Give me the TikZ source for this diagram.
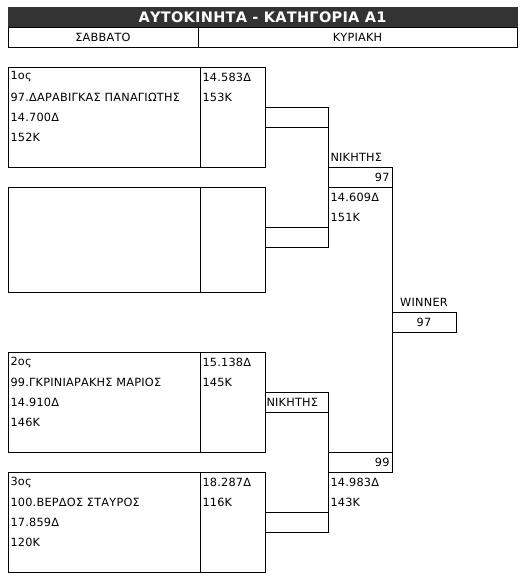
\documentclass[tikz,border=0pt]{standalone}
\usepackage{fontspec}
\setmainfont{DejaVu Sans}[LetterSpace=2]
\definecolor{barbg}{HTML}{333333}
\begin{document}
\begin{tikzpicture}[x=1pt,y=-1pt,line width=1pt,
  box/.style={draw, inner sep=0pt, outer sep=0pt, anchor=north west},
  txt/.style={inner sep=0pt, anchor=west, font=\fontsize{11.3}{13}\selectfont},
  rtxt/.style={inner sep=0pt, anchor=east, font=\fontsize{11.3}{13}\selectfont},
  ctxt/.style={inner sep=0pt, font=\fontsize{11.3}{13}\selectfont},
  wire/.style={draw, line width=1pt}]
\useasboundingbox (0,0) rectangle (528,582);
% title and header
\node[box, draw=barbg, fill=barbg, minimum width=509pt, minimum height=20pt, text=white,
      font=\bfseries\fontsize{14.5}{16}\selectfont] (title) at (8,7) {ΑΥΤΟΚΙΝΗΤΑ - ΚΑΤΗΓΟΡΙΑ Α1};
\node[box, minimum width=190pt, minimum height=20pt, font=\fontsize{11.3}{13}\selectfont] (sat) at (8,27) {ΣΑΒΒΑΤΟ};
\node[box, minimum width=319pt, minimum height=20pt, font=\fontsize{11.3}{13}\selectfont] (sun) at (198,27) {ΚΥΡΙΑΚΗ};
% boxes
\node[box, minimum width=192pt, minimum height=100pt] (b1l) at (8,67) {};
\node[box, minimum width=65pt, minimum height=100pt] (b1r) at (200,67) {};
\node[box, minimum width=192pt, minimum height=105pt] (b2l) at (8,187) {};
\node[box, minimum width=65pt, minimum height=105pt] (b2r) at (200,187) {};
\node[box, minimum width=192pt, minimum height=100pt] (b3l) at (8,352) {};
\node[box, minimum width=65pt, minimum height=100pt] (b3r) at (200,352) {};
\node[box, minimum width=192pt, minimum height=100pt] (b4l) at (8,472) {};
\node[box, minimum width=65pt, minimum height=100pt] (b4r) at (200,472) {};
% winner cells
\node[box, minimum width=64pt, minimum height=20pt] (w1) at (328,167) {};
\node[box, minimum width=64pt, minimum height=20pt] (w2) at (328,452) {};
\node[box, minimum width=63pt, minimum height=20pt] (n2) at (265,392) {};
\node[box, minimum width=64pt, minimum height=20pt] (wf) at (392,312) {};
% connector coordinates
\coordinate (p1a) at (265,107); \coordinate (q1a) at (328,107);
\coordinate (p1b) at (265,127); \coordinate (q1b) at (328,127);
\coordinate (p2a) at (265,227); \coordinate (q2a) at (328,227);
\coordinate (p2b) at (265,247); \coordinate (q2b) at (328,247);
\coordinate (p4a) at (265,512); \coordinate (q4a) at (328,512);
\coordinate (p4b) at (265,532); \coordinate (q4b) at (328,532);
% connectors
\draw[wire] (p1a) -- (q1a) -- (q2b) -- (p2b);
\draw[wire] (p1b) -- (q1b);
\draw[wire] (p2a) -- (q2a);
\draw[wire] (w1.north east) -- (w2.south east);
\draw[wire] (n2.north east) -- (q4b) -- (p4b);
\draw[wire] (p4a) -- (q4a);
% texts box 1
\node[txt] (t11) at (10,77) {1ος};
\node[txt] (t12) at (10,97) {97.ΔΑΡΑΒΙΓΚΑΣ ΠΑΝΑΓΙΩΤΗΣ};
\node[txt] (t13) at (10,117) {14.700Δ};
\node[txt] (t14) at (10,137) {152Κ};
\node[txt] (t15) at (202,77) {14.583Δ};
\node[txt] (t16) at (202,97) {153Κ};
% winner 1
\node[txt] (w1lab) at (330,157) {ΝΙΚΗΤΗΣ};
\node[rtxt] (w1num) at (390,177) {97};
\node[txt] (w1a) at (330,197) {14.609Δ};
\node[txt] (w1b) at (330,217) {151Κ};
% final
\node[ctxt] (wflab) at (424,302) {WINNER};
\node[ctxt] (wfnum) at (wf.center) {97};
% box 3
\node[txt] (t31) at (10,362) {2ος};
\node[txt] (t32) at (10,382) {99.ΓΚΡΙΝΙΑΡΑΚΗΣ ΜΑΡΙΟΣ};
\node[txt] (t33) at (10,402) {14.910Δ};
\node[txt] (t34) at (10,422) {146Κ};
\node[txt] (t35) at (202,362) {15.138Δ};
\node[txt] (t36) at (202,382) {145Κ};
\node[txt] (n2lab) at (266,402) {ΝΙΚΗΤΗΣ};
% winner 2
\node[rtxt] (w2num) at (390,462) {99};
\node[txt] (w2a) at (330,482) {14.983Δ};
\node[txt] (w2b) at (330,502) {143Κ};
% box 4
\node[txt] (t41) at (10,482) {3ος};
\node[txt] (t42) at (10,502) {100.ΒΕΡΔΟΣ ΣΤΑΥΡΟΣ};
\node[txt] (t43) at (10,522) {17.859Δ};
\node[txt] (t44) at (10,542) {120Κ};
\node[txt] (t45) at (202,482) {18.287Δ};
\node[txt] (t46) at (202,502) {116Κ};
\end{tikzpicture}
\end{document}
